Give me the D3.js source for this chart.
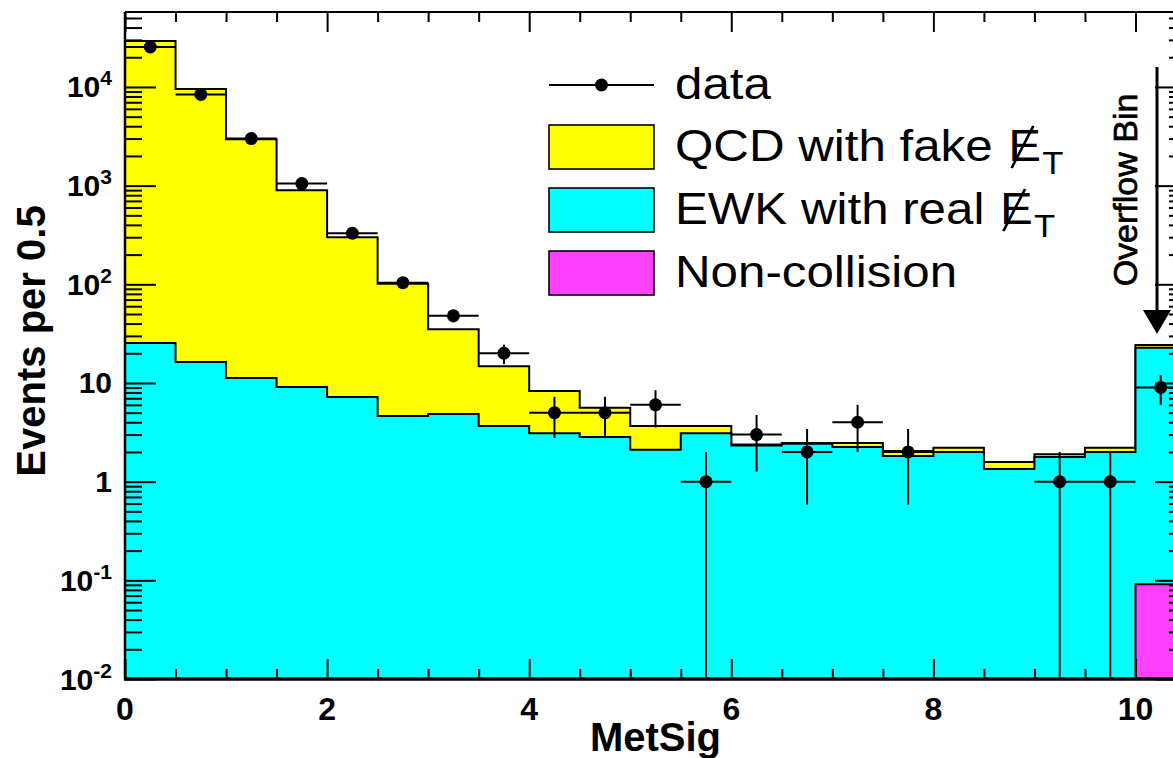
<!DOCTYPE html>
<html>
<head>
<meta charset="utf-8">
<script src="https://cdn.jsdelivr.net/npm/d3@7"></script>
<style>
  html, body { margin: 0; padding: 0; background: #fff; overflow: hidden; }
  svg { display: block; }
  text { font-family: "Liberation Sans", Arial, Helvetica, sans-serif; fill: #000; }
</style>
</head>
<body>
<svg id="chart" width="1173" height="758"></svg>
<script>
// MetSig distribution, 0.5-wide bins; the last bin collects the overflow.
const binCenters = [0.25, 0.75, 1.25, 1.75, 2.25, 2.75, 3.25, 3.75, 4.25, 4.75, 5.25,
                    5.75, 6.25, 6.75, 7.25, 7.75, 8.25, 8.75, 9.25, 9.75, 10.25];
const binWidth = 0.5;

// Background components (events per bin)
const qcdFake      = [29170, 9530, 2940, 891, 292, 96.4, 30.2, 11.1, 5.2, 2.76, 1.57,
                      0.57, 0.05, 0.05, 0.22, 0.23, 0.2, 0.24, 0.12, 0.2, 1.5];
const ewkReal      = [25.4, 16.3, 11.2, 9.1, 7.2, 4.63, 4.85, 3.67, 3.1, 2.84, 2.1,
                      3.1, 2.33, 2.42, 2.25, 1.82, 2.0, 1.34, 1.78, 2.0, 22.6];
const nonCollision = [0, 0, 0, 0, 0, 0, 0, 0, 0, 0, 0,
                      0, 0, 0, 0, 0, 0, 0, 0, 0, 0.091];

// Observed counts
const dataCounts   = [25400, 8400, 3000, 1050, 329, 104, 48, 20, 5, 5, 6,
                      1, 3, 2, 4, 2, 0, 0, 1, 1, 9];

// Axis ticks and labels
const xMajorTicks = [0, 2, 4, 6, 8, 10];
const xTickLabels = ["0", "2", "4", "6", "8", "10"];
const yMajorTicks = [1e-2, 1e-1, 1, 10, 1e2, 1e3, 1e4];
const yTickBase   = ["10", "10", "1", "10", "10", "10", "10"];
const yTickExp    = ["-2", "-1", "", "", "2", "3", "4"];

const legendLabels = ["data", "QCD with fake", "EWK with real", "Non-collision"];
const legendColors = [null, "#ffff00", "#00ffff", "#ff40ff"];

// ---------------------------------------------------------------
const svg = d3.select("#chart");
const frame = { left: 125, right: 1186, top: 12, bottom: 679 };
const yFloor = 0.01;

const x = d3.scaleLinear().domain([0, 10.5]).range([frame.left, frame.right]);
const y = d3.scaleLog().domain([yFloor, 57500]).range([frame.bottom, frame.top]).clamp(true);

svg.append("defs").append("clipPath").attr("id", "plotClip")
  .append("rect")
  .attr("x", frame.left).attr("y", frame.top)
  .attr("width", frame.right - frame.left).attr("height", frame.bottom - frame.top);

// Stack: non-collision at the bottom, EWK above it, QCD on top
const rows = binCenters.map((c, i) => ({ c, nc: nonCollision[i], ewk: ewkReal[i], qcd: qcdFake[i] }));
const stacked = d3.stack().keys(["nc", "ewk", "qcd"])(rows);
const cumulative = {
  total: stacked[2].map(d => d[1]),
  ewk:   stacked[1].map(d => d[1]),
  nc:    stacked[0].map(d => d[1])
};

const plot = svg.append("g").attr("clip-path", "url(#plotClip)");

const line = d3.line();
function stepPoints(tops) {
  const pts = [[x(binCenters[0] - binWidth / 2), y(yFloor)]];
  tops.forEach((v, i) => {
    const yy = y(Math.max(v, yFloor));
    pts.push([x(binCenters[i] - binWidth / 2), yy]);
    pts.push([x(binCenters[i] + binWidth / 2), yy]);
  });
  pts.push([x(binCenters[binCenters.length - 1] + binWidth / 2), y(yFloor)]);
  return pts;
}

[[cumulative.total, "#ffff00"], [cumulative.ewk, "#00ffff"], [cumulative.nc, "#ff40ff"]]
  .forEach(([tops, color]) => {
    plot.append("path")
      .attr("d", line(stepPoints(tops)) + "Z")
      .attr("fill", color)
      .attr("stroke", "#000")
      .attr("stroke-width", 2)
      .attr("stroke-linejoin", "miter");
  });

// Data points with sqrt(N) errors and bin-width horizontal bars
const pts = binCenters.map((c, i) => ({ c, n: dataCounts[i] })).filter(d => d.n > 0);
const dataG = plot.append("g");
dataG.selectAll("line.h").data(pts).join("line")
  .attr("x1", d => x(d.c - binWidth / 2)).attr("x2", d => x(d.c + binWidth / 2))
  .attr("y1", d => y(d.n)).attr("y2", d => y(d.n))
  .attr("stroke", "#000").attr("stroke-width", 2);
dataG.selectAll("line.v").data(pts).join("line")
  .attr("x1", d => x(d.c)).attr("x2", d => x(d.c))
  .attr("y1", d => y(Math.max(d.n - Math.sqrt(d.n), yFloor)))
  .attr("y2", d => y(d.n + Math.sqrt(d.n)))
  .attr("stroke", "#000").attr("stroke-width", 2);
dataG.selectAll("circle").data(pts).join("circle")
  .attr("cx", d => x(d.c)).attr("cy", d => y(d.n)).attr("r", 6.5)
  .attr("fill", "#000");

// ---------------------------------------------------------------
// Axes (ticks drawn inward on all four sides)
const xMinor = d3.range(0, 10.51, 0.5).filter(v => !xMajorTicks.includes(v));
const yMinor = y.ticks().filter(v => !yMajorTicks.some(m => Math.abs(Math.log10(v) - Math.log10(m)) < 1e-6));

function styleAxis(g) {
  g.selectAll("path.domain").remove();
  g.selectAll(".tick line").attr("stroke", "#000").attr("stroke-width", 2);
  g.selectAll(".tick text").remove();
}

// bottom
const gB = svg.append("g").attr("transform", `translate(0,${frame.bottom})`);
gB.append("g").call(d3.axisBottom(x).tickValues(xMinor).tickSize(-10).tickSizeOuter(0)).call(styleAxis);
gB.append("g").call(d3.axisBottom(x).tickValues(xMajorTicks).tickSize(-20).tickSizeOuter(0)).call(styleAxis);
gB.append("line").attr("x1", frame.left - 1).attr("x2", frame.right).attr("y1", 0).attr("y2", 0)
  .attr("stroke", "#000").attr("stroke-width", 3.5);

// top
const gT = svg.append("g").attr("transform", `translate(0,${frame.top})`);
gT.append("g").call(d3.axisTop(x).tickValues(xMinor).tickSize(-10).tickSizeOuter(0)).call(styleAxis);
gT.append("g").call(d3.axisTop(x).tickValues(xMajorTicks).tickSize(-20).tickSizeOuter(0)).call(styleAxis);
gT.append("line").attr("x1", frame.left).attr("x2", frame.right).attr("y1", 0).attr("y2", 0)
  .attr("stroke", "#000").attr("stroke-width", 2);

// left
const gL = svg.append("g").attr("transform", `translate(${frame.left},0)`);
gL.append("g").call(d3.axisLeft(y).tickValues(yMinor).tickSize(-17).tickSizeOuter(0)).call(styleAxis);
gL.append("g").call(d3.axisLeft(y).tickValues(yMajorTicks).tickSize(-31).tickSizeOuter(0)).call(styleAxis);
gL.append("line").attr("x1", 0).attr("x2", 0).attr("y1", frame.top).attr("y2", frame.bottom)
  .attr("stroke", "#000").attr("stroke-width", 2.5);

// right
const gR = svg.append("g").attr("transform", `translate(${frame.right},0)`);
gR.append("g").call(d3.axisRight(y).tickValues(yMinor).tickSize(-17).tickSizeOuter(0)).call(styleAxis);
gR.append("g").call(d3.axisRight(y).tickValues(yMajorTicks).tickSize(-31).tickSizeOuter(0)).call(styleAxis);
gR.append("line").attr("x1", 0).attr("x2", 0).attr("y1", frame.top).attr("y2", frame.bottom)
  .attr("stroke", "#000").attr("stroke-width", 2);

// x tick labels
svg.append("g").selectAll("text").data(xMajorTicks).join("text")
  .attr("x", d => x(d)).attr("y", 720)
  .attr("text-anchor", "middle")
  .attr("font-size", 32).attr("font-weight", "bold")
  .text((d, i) => xTickLabels[i]);

// y tick labels with exponents
const yl = svg.append("g").selectAll("text").data(yMajorTicks).join("text")
  .attr("x", 112).attr("y", d => y(d) + 10.5)
  .attr("text-anchor", "end")
  .attr("font-size", 30).attr("font-weight", "bold");
yl.append("tspan").text((d, i) => yTickBase[i]);
yl.append("tspan").attr("dy", -12).attr("font-size", 21)
  .text((d, i) => yTickExp[i]);

// Axis titles
svg.append("text")
  .attr("x", (frame.left + frame.right) / 2).attr("y", 751)
  .attr("text-anchor", "middle").attr("font-size", 40).attr("font-weight", "bold")
  .text("MetSig");
svg.append("text")
  .attr("transform", "translate(45,341) rotate(-90)")
  .attr("text-anchor", "middle").attr("font-size", 40).attr("font-weight", "bold")
  .text("Events per 0.5");

// ---------------------------------------------------------------
// Legend
const leg = svg.append("g");
const legRowY = [85, 147, 210, 273];
const legBox = { x0: 549, x1: 654, h: 44 };
const textX = 675;
const textStretch = 1.12;

// data entry
leg.append("line").attr("x1", legBox.x0).attr("x2", legBox.x1)
  .attr("y1", legRowY[0]).attr("y2", legRowY[0]).attr("stroke", "#000").attr("stroke-width", 2);
leg.append("circle").attr("cx", (legBox.x0 + legBox.x1) / 2).attr("cy", legRowY[0]).attr("r", 6.5).attr("fill", "#000");

for (let i = 1; i < 4; i++) {
  leg.append("rect")
    .attr("x", legBox.x0).attr("y", legRowY[i] - legBox.h / 2)
    .attr("width", legBox.x1 - legBox.x0).attr("height", legBox.h)
    .attr("fill", legendColors[i]).attr("stroke", "#000").attr("stroke-width", 1.6);
}

const legTextG = leg.append("g").attr("transform", `translate(${textX},0) scale(${textStretch},1)`);
const legText = legRowY.map((ry, i) =>
  legTextG.append("text").attr("x", 0).attr("y", ry + 14).attr("font-size", 44).text(legendLabels[i]));

// Missing transverse energy symbol after the QCD and EWK labels
[1, 2].forEach(i => {
  const baseLen = legText[i].node().getComputedTextLength();
  const ex = baseLen + 14;
  const by = legRowY[i] + 14;
  const g = legTextG.append("g");
  g.append("text").attr("x", ex).attr("y", by).attr("font-size", 44).text("E");
  const eW = 44 * 0.667;
  g.append("text").attr("x", ex + eW + 1).attr("y", by + 13).attr("font-size", 31).text("T");
  g.append("line")
    .attr("x1", ex + 3).attr("y1", by + 7)
    .attr("x2", ex + eW - 7).attr("y2", by - 35)
    .attr("stroke", "#000").attr("stroke-width", 2.4);
});

// ---------------------------------------------------------------
// Overflow bin marker
const ovX = 1157;
svg.append("line").attr("x1", ovX).attr("x2", ovX).attr("y1", 67).attr("y2", 315)
  .attr("stroke", "#000").attr("stroke-width", 3);
svg.append("path")
  .attr("d", `M${ovX - 14},310L${ovX + 14},310L${ovX},334Z`)
  .attr("fill", "#000");
svg.append("text")
  .attr("transform", "translate(1137,190) rotate(-90)")
  .attr("text-anchor", "middle").attr("font-size", 34)
  .attr("stroke", "#000").attr("stroke-width", 0.7)
  .text("Overflow Bin");
</script>
</body>
</html>
